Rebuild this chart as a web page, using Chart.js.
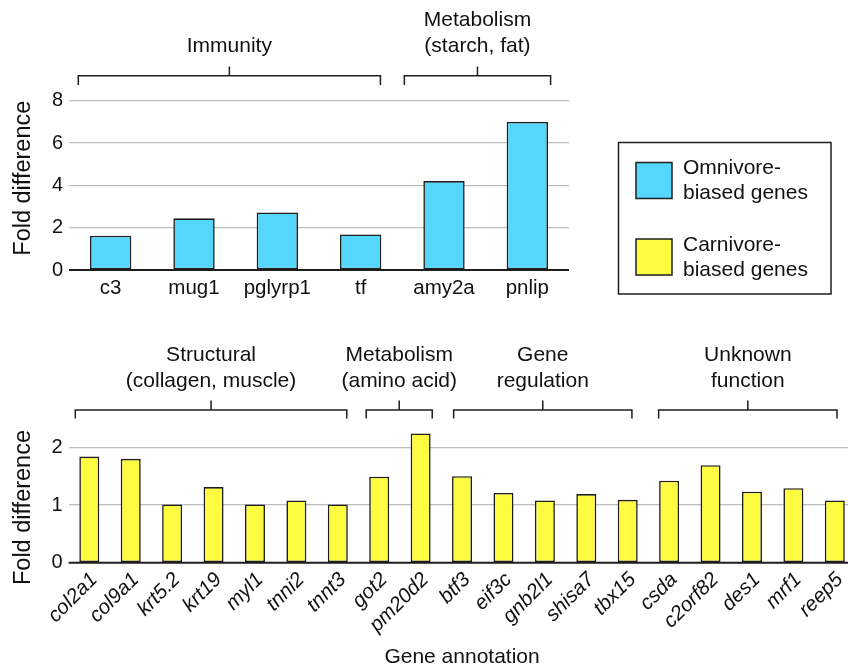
<!DOCTYPE html>
<html>
<head>
<meta charset="utf-8">
<title>Fold difference of diet-biased genes</title>
<script src="https://cdn.jsdelivr.net/npm/chart.js@4.4.1/dist/chart.umd.min.js"></script>
<style>
  html, body { margin: 0; padding: 0; background: #fff; }
  #wrap { position: relative; width: 848px; height: 668px; overflow: hidden; background: #fff; }
  #wrap canvas { position: absolute; left: 0; }
  #omni { top: 0; }
  #carni { top: 320px; }
</style>
</head>
<body>
<div id="wrap">
  <canvas id="omni" width="848" height="320" style="width:848px;height:320px"></canvas>
  <canvas id="carni" width="880" height="350" style="width:880px;height:350px"></canvas>
</div>
<script>
// ---- data -------------------------------------------------------------
const omniGenes = ['c3', 'mug1', 'pglyrp1', 'tf', 'amy2a', 'pnlip'];
const omniFold  = [1.62, 2.44, 2.72, 1.68, 4.2, 7.0];
const omniTicks = [0, 2, 4, 6, 8];
const omniGroups = [
  { lines: ['Immunity'], from: 'c3', to: 'tf' },
  { lines: ['Metabolism', '(starch, fat)'], from: 'amy2a', to: 'pnlip' }
];

const carniGenes = ['col2a1', 'col9a1', 'krt5.2', 'krt19', 'myl1', 'tnni2', 'tnnt3',
  'got2', 'pm20d2', 'btf3', 'eif3c', 'gnb2l1', 'shisa7', 'tbx15',
  'csda', 'c2orf82', 'des1', 'mrf1', 'reep5'];
const carniFold  = [1.84, 1.80, 1.01, 1.31, 1.01, 1.08, 1.01,
  1.49, 2.24, 1.50, 1.21, 1.08, 1.19, 1.09,
  1.42, 1.69, 1.23, 1.29, 1.08];
const carniTicks = [0, 1, 2];
const carniGroups = [
  { lines: ['Structural', '(collagen, muscle)'], from: 'col2a1', to: 'tnnt3' },
  { lines: ['Metabolism', '(amino acid)'], from: 'got2', to: 'pm20d2' },
  { lines: ['Gene', 'regulation'], from: 'btf3', to: 'tbx15' },
  { lines: ['Unknown', 'function'], from: 'csda', to: 'reep5' }
];

const legendLabels = [['Omnivore-', 'biased genes'], ['Carnivore-', 'biased genes']];
const yTitle = 'Fold difference';
const xTitle = 'Gene annotation';

// ---- styling ----------------------------------------------------------
const FONT = "'Liberation Sans', Arial, Helvetica, sans-serif";
const INK = '#1e1e1e';
const TEXT = '#111';
const CYAN = '#55d6fb';
const YELLOW = '#fffb40';
const GRID = '#bdbdbd';
const TXT = 21;      // captions, legend, axis title
const TICK = 20;     // tick labels
const YTXT = 23.5;   // vertical axis titles

// Square brackets with a centre stub and a caption above each gene group
function groupBrackets(groups, g) {
  return {
    id: 'groupBrackets',
    afterDraw(chart) {
      const ctx = chart.ctx;
      const names = chart.data.labels;
      const bars = chart.getDatasetMeta(0).data;
      ctx.save();
      ctx.strokeStyle = INK;
      ctx.fillStyle = TEXT;
      ctx.lineWidth = 1.5;
      ctx.font = `${TXT}px ${FONT}`;
      ctx.textAlign = 'center';
      ctx.textBaseline = 'middle';
      groups.forEach((grp, k) => {
        const a = bars[names.indexOf(grp.from)];
        const b = bars[names.indexOf(grp.to)];
        const x0 = a.x - a.width / 2 + g.trim[k][0];
        const x1 = b.x + b.width / 2 + g.trim[k][1];
        const xm = (x0 + x1) / 2;
        ctx.beginPath();
        ctx.moveTo(x0, g.down); ctx.lineTo(x0, g.y);
        ctx.lineTo(x1, g.y); ctx.lineTo(x1, g.down);
        ctx.moveTo(xm, g.y); ctx.lineTo(xm, g.up);
        ctx.stroke();
        const n = grp.lines.length;
        grp.lines.forEach((t, i) => ctx.fillText(t, xm, g.textY - (n - 1 - i) * g.gap));
      });
      ctx.restore();
    }
  };
}

// Solid zero line across the plot
const zeroLine = {
  id: 'zeroLine',
  afterDatasetsDraw(chart) {
    const { ctx, chartArea, scales } = chart;
    const y = scales.y.getPixelForValue(0);
    ctx.save();
    ctx.strokeStyle = INK;
    ctx.lineWidth = 2;
    ctx.beginPath();
    ctx.moveTo(chartArea.left, y);
    ctx.lineTo(chartArea.right, y);
    ctx.stroke();
    ctx.restore();
  }
};

// Boxed legend with two-line captions
const legendBox = {
  id: 'legendBox',
  afterDraw(chart) {
    const ctx = chart.ctx;
    const colors = [CYAN, YELLOW];
    ctx.save();
    ctx.strokeStyle = INK;
    ctx.lineWidth = 1.5;
    ctx.strokeRect(618.5, 142.5, 212.5, 151.5);
    ctx.font = `${TXT}px ${FONT}`;
    ctx.textAlign = 'left';
    ctx.textBaseline = 'middle';
    legendLabels.forEach((lines, i) => {
      const top = 162.5 + i * 76.5;
      ctx.fillStyle = colors[i];
      ctx.fillRect(636, top, 36, 36);
      ctx.strokeRect(636, top, 36, 36);
      ctx.fillStyle = TEXT;
      lines.forEach((t, j) => ctx.fillText(t, 683, top + 6 + j * 25));
    });
    ctx.restore();
  }
};

function gridColor(c) { return c.tick && c.tick.value === 0 ? 'rgba(0,0,0,0)' : GRID; }

const yTitleOpts = {
  display: true, text: yTitle, color: TEXT, align: 'end',
  font: { family: FONT, size: YTXT }, padding: { top: 9.5, bottom: 0 }
};

// ---- omnivore-biased panel -------------------------------------------
new Chart(document.getElementById('omni'), {
  type: 'bar',
  data: {
    labels: omniGenes,
    datasets: [{
      label: 'Omnivore-biased genes',
      data: omniFold,
      backgroundColor: CYAN,
      borderColor: INK,
      borderWidth: 1.6,
      borderSkipped: false,
      categoryPercentage: 1,
      barPercentage: 0.496
    }]
  },
  options: {
    responsive: false,
    animation: false,
    devicePixelRatio: 1,
    layout: { padding: { left: 0, top: 100.7, right: 279, bottom: 0 } },
    plugins: { legend: { display: false }, tooltip: { enabled: false } },
    scales: {
      x: {
        grid: { display: false, drawTicks: false },
        border: { display: false },
        ticks: { color: TEXT, font: { family: FONT, size: 20.5 }, padding: 6 },
        afterFit(s) { s.height = 50; }
      },
      y: {
        min: omniTicks[0],
        max: omniTicks[omniTicks.length - 1],
        afterBuildTicks(s) { s.ticks = omniTicks.map(v => ({ value: v })); },
        ticks: { color: TEXT, font: { family: FONT, size: TICK }, padding: 6 },
        grid: { color: gridColor, lineWidth: 1.2, drawTicks: false },
        border: { display: false },
        title: yTitleOpts,
        afterFit(s) { s.width = 69; }
      }
    }
  },
  plugins: [
    zeroLine,
    legendBox,
    groupBrackets(omniGroups, {
      y: 75.7, down: 85, up: 66.5, textY: 46, gap: 25.5,
      trim: [[-11.7, -0.9], [-19, 2.6]]
    })
  ]
});

// ---- carnivore-biased panel ------------------------------------------
new Chart(document.getElementById('carni'), {
  type: 'bar',
  data: {
    labels: carniGenes,
    datasets: [{
      label: 'Carnivore-biased genes',
      data: carniFold,
      backgroundColor: YELLOW,
      borderColor: INK,
      borderWidth: 1.6,
      borderSkipped: false,
      categoryPercentage: 1,
      barPercentage: 0.483
    }]
  },
  options: {
    responsive: false,
    animation: false,
    devicePixelRatio: 1,
    layout: { padding: { left: 0, top: 110, right: 24.5, bottom: 0 } },
    plugins: { legend: { display: false }, tooltip: { enabled: false } },
    scales: {
      x: {
        grid: { display: false, drawTicks: false },
        border: { display: false },
        ticks: {
          color: TEXT,
          font: { family: FONT, size: 20.5, style: 'italic' },
          minRotation: 45, maxRotation: 45, autoSkip: false,
          padding: 5, labelOffset: 5
        },
        title: { display: true, text: xTitle, color: TEXT,
                 font: { family: FONT, size: TXT }, padding: { top: 0, bottom: 0 } },
        afterFit(s) { s.height = 107.3; }
      },
      y: {
        min: 0,
        max: 2.3,
        afterBuildTicks(s) { s.ticks = carniTicks.map(v => ({ value: v })); },
        ticks: { color: TEXT, font: { family: FONT, size: TICK }, padding: 6 },
        grid: { color: gridColor, lineWidth: 1.2, drawTicks: false },
        border: { display: false },
        title: yTitleOpts,
        afterFit(s) { s.width = 68.6; }
      }
    }
  },
  plugins: [
    zeroLine,
    groupBrackets(carniGroups, {
      y: 90, down: 98.5, up: 80.5, textY: 61.7, gap: 26.7,
      trim: [[-4, -1], [-3, 1.6], [1.6, -5.8], [-0.5, -7.8]]
    })
  ]
});
</script>
</body>
</html>
